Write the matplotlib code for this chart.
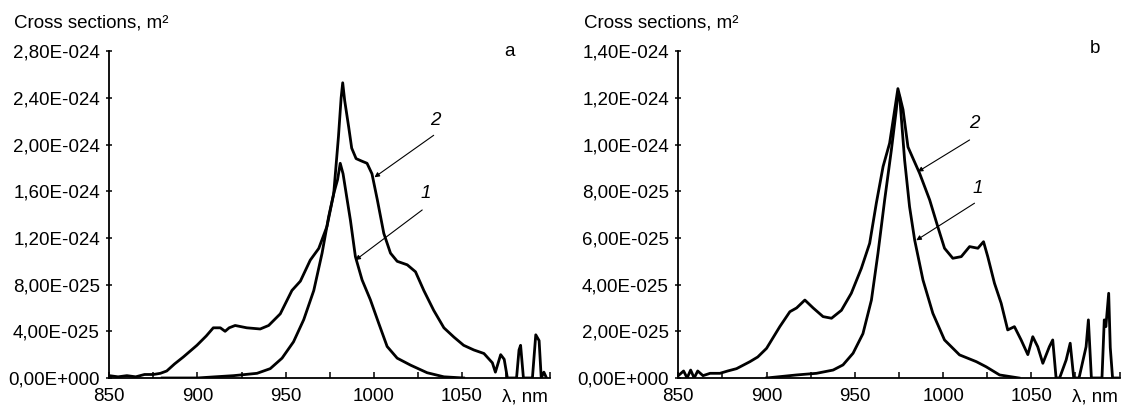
import matplotlib
matplotlib.use("Agg")
import matplotlib.pyplot as plt
import matplotlib.transforms as mtransforms
import numpy as np

plt.rcParams["font.family"] = ["Liberation Sans", "DejaVu Sans"]

# ── Data (cross sections in units of 1e-24 m^2) ─────────────────────────────
SCALE = 1e-24

# panel a, curve 2
a2_wl = [850, 855, 860, 865, 870, 875, 879, 882.6, 887, 892, 899.7, 905, 909, 913,
         915.7, 918, 921.4, 928, 935.6, 940.4, 947, 953.6, 958.4, 964, 968.8, 973.5,
         977.3, 980, 981.5, 982.4, 983.5, 985.8, 987.5, 990, 993, 996.2, 999, 1002,
         1005.7, 1009.5, 1013.3, 1019, 1023.7, 1028.4, 1034, 1039.8, 1045.5, 1051,
         1056.8, 1062.5, 1067.3, 1069, 1072, 1074, 1075.8, 1078.4, 1081, 1082.4,
         1083.3, 1084.9, 1090, 1091.9, 1093.8, 1095, 1096.5, 1098]
a2_cs = [0.02, 0.01, 0.02, 0.01, 0.03, 0.03, 0.04, 0.06, 0.12, 0.18, 0.28, 0.36, 0.43, 0.43,
         0.40, 0.43, 0.45, 0.43, 0.42, 0.45, 0.55, 0.75, 0.83, 1.01, 1.11, 1.30,
         1.58, 2.07, 2.40, 2.53, 2.38, 2.15, 1.97, 1.88, 1.86, 1.84, 1.75, 1.53,
         1.24, 1.07, 1.00, 0.97, 0.91, 0.75, 0.58, 0.43, 0.35, 0.28,
         0.24, 0.21, 0.13, 0.05, 0.20, 0.16, 0.0, 0.0, 0.0, 0.24,
         0.28, 0.0, 0.0, 0.37, 0.32, 0.0, 0.05, 0.0]

# panel a, curve 1
a1_wl = [880, 900, 910, 920.5, 933.8, 941.3, 948, 954.5, 960.3, 966, 970.7, 974.4,
         977.3, 979.5, 981, 982.6, 984.9, 986.8, 989.6, 993.4, 998.1, 1002.8, 1007.6,
         1013.3, 1020.9, 1030.3, 1039.8, 1051]
a1_cs = [0.0, 0.0, 0.01, 0.02, 0.04, 0.08, 0.17, 0.31, 0.50, 0.75, 1.07, 1.38,
         1.58, 1.70, 1.84, 1.75, 1.53, 1.35, 1.04, 0.84, 0.67, 0.47, 0.27,
         0.17, 0.11, 0.045, 0.01, 0.0]

# panel b, curve 2
b2_wl = [850, 853, 855, 857, 859, 861, 864, 868, 873.6, 878, 883, 890.6, 895, 900,
         907.5, 913.2, 917, 921.7, 926.4, 932, 936.8, 942.4, 948, 953.7, 958.4, 962.2,
         966, 969.7, 972, 974.4, 977.3, 980.1, 983, 986.7, 992.4, 997, 1000.8, 1005.5,
         1010.3, 1015, 1019.7, 1022.9, 1025.3, 1029.1, 1032.9, 1036.6, 1040.4, 1044.2,
         1048, 1050.8, 1053.6, 1056.5, 1060.2, 1062.1, 1064, 1066, 1069.7, 1072, 1074,
         1077, 1081, 1082.3, 1084, 1090, 1091.3, 1092.2, 1093.8, 1094.7, 1096, 1099]
b2_cs = [0.01, 0.03, 0.0, 0.034, 0.0, 0.03, 0.01, 0.02, 0.02, 0.03, 0.04, 0.07, 0.09, 0.127,
         0.22, 0.284, 0.30, 0.334, 0.30, 0.263, 0.256, 0.29, 0.363, 0.47, 0.577, 0.75,
         0.906, 1.006, 1.12, 1.24, 1.15, 0.99, 0.94, 0.877, 0.763, 0.648, 0.556, 0.513,
         0.52, 0.563, 0.556, 0.584, 0.52, 0.406, 0.32, 0.206, 0.22, 0.163,
         0.10, 0.177, 0.134, 0.063, 0.134, 0.163, 0.0, 0.0, 0.077, 0.149, 0.0,
         0.0, 0.134, 0.249, 0.0, 0.0, 0.249, 0.22, 0.363, 0.13, 0.0, 0.0]

# panel b, curve 1
b1_wl = [900, 917, 928.3, 937.7, 943.3, 949, 954.6, 959.4, 963.1, 966.9, 970.7, 973.5,
         974.4, 975.4, 978.2, 981, 983.9, 988.6, 994.2, 1000.8, 1009.3, 1018.8, 1024.4,
         1032, 1043]
b1_cs = [0.0, 0.013, 0.02, 0.034, 0.056, 0.106, 0.19, 0.334, 0.534, 0.763, 0.977, 1.15,
         1.22, 1.206, 0.934, 0.734, 0.591, 0.42, 0.277, 0.163, 0.099, 0.07, 0.048,
         0.013, 0.0]

x_ticks = [850, 900, 950, 1000, 1050, 1100]
x_ticklabels = ["850", "900", "950", "1000", "1050", ""]

a_yticks = [0.0, 0.4, 0.8, 1.2, 1.6, 2.0, 2.4, 2.8]
a_yticklabels = ["0,00E+000", "4,00E-025", "8,00E-025", "1,20E-024",
                 "1,60E-024", "2,00E-024", "2,40E-024", "2,80E-024"]
b_yticks = [0.0, 0.2, 0.4, 0.6, 0.8, 1.0, 1.2, 1.4]
b_yticklabels = ["0,00E+000", "2,00E-025", "4,00E-025", "6,00E-025",
                 "8,00E-025", "1,00E-024", "1,20E-024", "1,40E-024"]

FS = 13.5

fig = plt.figure(figsize=(11.23, 4.05), dpi=100, facecolor="white")
ax_a = fig.add_axes([0.0973, 0.0667, 0.3925, 0.8067])
ax_b = fig.add_axes([0.604, 0.0667, 0.3930, 0.8067])


def setup(ax, yticks, yticklabels):
    for s in ("top", "right"):
        ax.spines[s].set_visible(False)
    for s in ("left", "bottom"):
        ax.spines[s].set_linewidth(1.3)
    ax.set_xlim(850, 1100)
    ax.set_ylim(0, yticks[-1] * SCALE)
    ax.set_xticks(x_ticks)
    ax.set_xticklabels(x_ticklabels)
    ax.set_xticks([875, 925, 975, 1025, 1075], minor=True)
    ax.set_yticks([v * SCALE for v in yticks])
    ax.set_yticklabels(yticklabels)
    ax.tick_params(axis="x", which="both", direction="in", length=4, width=1.1,
                   pad=7, labelsize=FS)
    ax.tick_params(axis="y", direction="inout", length=5, width=1.1,
                   pad=4.2, labelsize=FS)
    trans = mtransforms.blended_transform_factory(ax.transData, ax.transAxes)
    ax.text(1099, -0.031, "λ, nm", transform=trans, ha="right", va="top", fontsize=FS)


def arrow(ax, label, xy, xytext, labelpos):
    ax.annotate("", xy=(xy[0], xy[1] * SCALE), xytext=(xytext[0], xytext[1] * SCALE),
                arrowprops=dict(arrowstyle="-|>", lw=0.8, color="black",
                                mutation_scale=7, shrinkA=0, shrinkB=0))
    ax.text(labelpos[0], labelpos[1] * SCALE, label, fontsize=FS, style="italic",
            ha="center", va="center")


# panel a
setup(ax_a, a_yticks, a_yticklabels)
ax_a.plot(a2_wl, np.array(a2_cs) * SCALE, color="black", lw=2.0)
ax_a.plot(a1_wl, np.array(a1_cs) * SCALE, color="black", lw=2.0)
arrow(ax_a, "2", (1000.4, 1.72), (1034, 2.08), (1035, 2.21))
arrow(ax_a, "1", (989.6, 1.01), (1027.5, 1.44), (1029.5, 1.58))
ax_a.text(1077, 2.8 * SCALE, "a", fontsize=FS, ha="center", va="center")

# panel b
setup(ax_b, b_yticks, b_yticklabels)
ax_b.plot(b2_wl, np.array(b2_cs) * SCALE, color="black", lw=2.0)
ax_b.plot(b1_wl, np.array(b1_cs) * SCALE, color="black", lw=2.0)
arrow(ax_b, "2", (985.7, 0.884), (1015, 1.02), (1017.8, 1.09))
arrow(ax_b, "1", (984.8, 0.59), (1017.8, 0.749), (1019.7, 0.81))
ax_b.text(1086, 1.41 * SCALE, "b", fontsize=FS, ha="center", va="center")

# axis titles at top-left of each panel
fig.text(14 / 1123, 1 - 23 / 405, "Cross sections, m²", fontsize=FS, va="center", ha="left")
fig.text(584 / 1123, 1 - 23 / 405, "Cross sections, m²", fontsize=FS, va="center", ha="left")

fig.savefig("out.png", dpi=100, facecolor="white")
